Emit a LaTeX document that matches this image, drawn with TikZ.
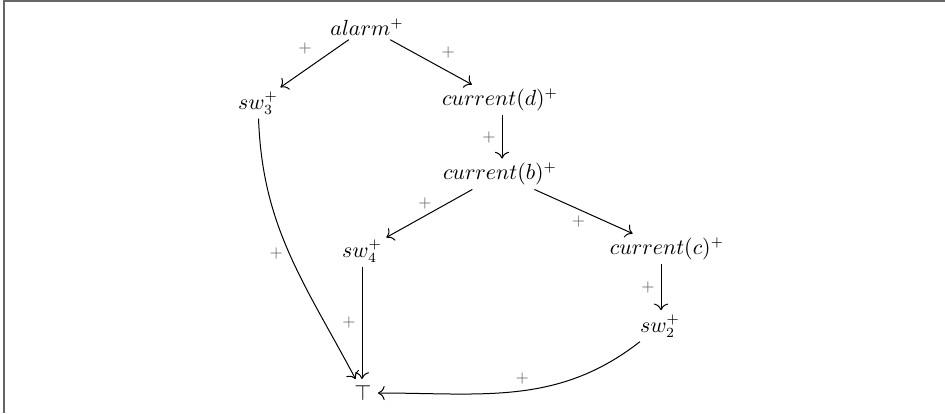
\documentclass[tikz,border=0pt]{standalone}
\usetikzlibrary{arrows.meta}
\begin{document}
\begin{tikzpicture}[x=0.5pt,y=-0.5pt,
  nd/.style={inner sep=2pt, font=\fontsize{10.5}{12}\selectfont},
  lbl/.style={text=black!60, font=\footnotesize, inner sep=3pt},
  edge/.style={-{To[scale=1.25]}, line width=0.5pt}]
\useasboundingbox (0,0) rectangle (945,413);
\draw[black!60, line width=1pt] (4,413) -- (4,1) -- (945,1);
\node[nd] (alarm) at (367,27) {$alarm^{+}$};
\node[nd] (sw3) at (258,103) {$sw_3^{+}$};
\node[nd] (cd) at (500,100) {$current(d)^{+}$};
\node[nd] (cb) at (500,174) {$current(b)^{+}$};
\node[nd] (sw4) at (362,251) {$sw_4^{+}$};
\node[nd] (cc) at (667,249) {$current(c)^{+}$};
\node[nd] (sw2) at (660,326) {$sw_2^{+}$};
\node[nd, inner sep=3pt] (top) at (363,393) {$\top$};
\draw[edge] (alarm) -- node[lbl, above left, pos=0.45] {$+$} (sw3);
\draw[edge] (alarm) -- node[lbl, above right, pos=0.55] {$+$} (cd);
\draw[edge] (cd.south -| 502,0) -- node[lbl, left] {$+$} (cb.north -| 502,0);
\draw[edge] (cb) -- node[lbl, above, pos=0.55] {$+$} (sw4);
\draw[edge] (cb) -- node[lbl, below, pos=0.45] {$+$} (cc);
\draw[edge] (cc.south -| 661,0) -- node[lbl, left] {$+$} (sw2.north -| 661,0);
\draw[edge] (sw4.south -| 362,0) -- node[lbl, left] {$+$} (top.north -| 362,0);
\draw[edge] (sw3) to[out=-88, in=118] node[lbl, left, pos=0.5] {$+$} (top);
\draw[edge] (sw2) to[out=218, in=0] node[lbl, above, pos=0.48] {$+$} (top);
\end{tikzpicture}
\end{document}
